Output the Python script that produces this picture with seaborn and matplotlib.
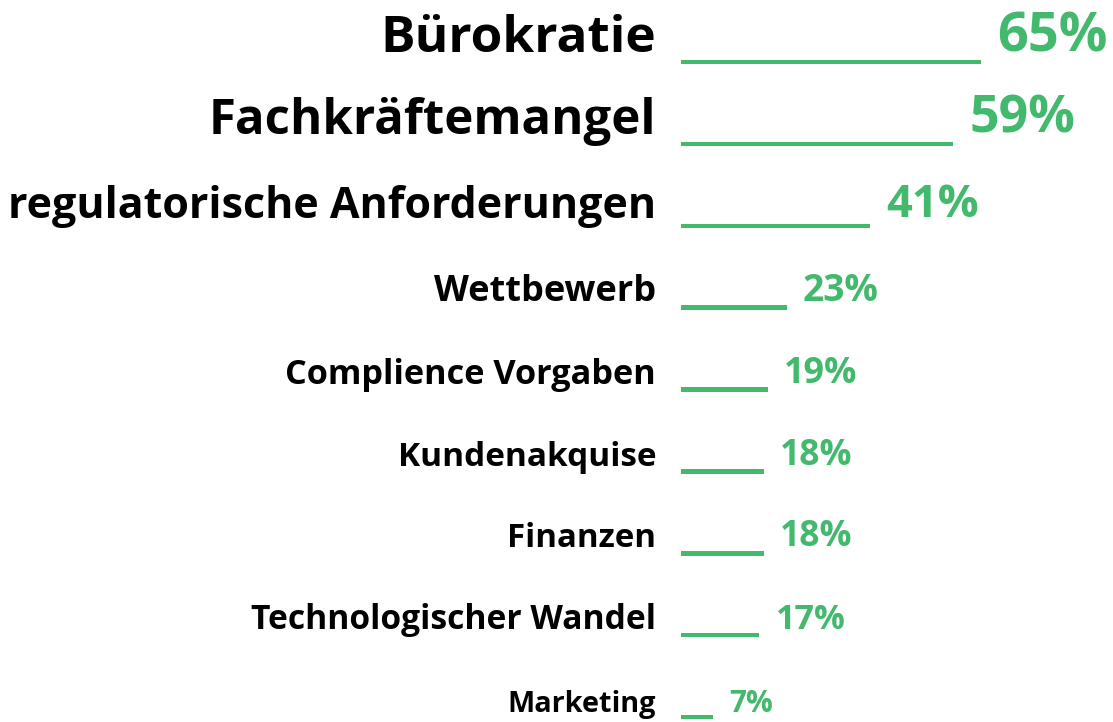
import numpy as np
import pandas as pd
import matplotlib as mpl
mpl.use("Agg")
import matplotlib.pyplot as plt
import seaborn as sns

## daten
kategorien = ["Bürokratie", "Fachkräftemangel", "regulatorische Anforderungen",
              "Wettbewerb", "Complience Vorgaben", "Kundenakquise", "Finanzen",
              "Technologischer Wandel", "Marketing"]
werte = [65, 59, 41, 23, 19, 18, 18, 17, 7]
prozent_labels = ["65%", "59%", "41%", "23%", "19%", "18%", "18%", "17%", "7%"]

df = pd.DataFrame({"Kategorie": kategorien, "Wert": werte})

sns.set_style("white")
plt.rcParams['font.family'] = ['Open Sans', 'DejaVu Sans']

gruen = "#43B96E"
# schriftgroessen pro zeile (label, prozent)
groesse_label = [37, 35.4, 31, 26, 24.7, 24, 23.8, 24.2, 20.8]
groesse_prozent = [39, 37.4, 32.7, 26.8, 25.8, 25.5, 25.5, 24.7, 21.5]

fig = plt.figure(figsize=(11.13, 7.22), dpi=100)
ax = fig.add_axes([0, 0, 1, 1])

sns.barplot(data=df, x="Wert", y="Kategorie", order=kategorien, orient="h",
            color=gruen, width=0.055, saturation=1, linewidth=0, ax=ax)

ax.set_xlim(-147.3, 93.6)
ax.set_ylim(8.06, -0.757)
ax.axis("off")

for i in range(len(kategorien)):
    ax.annotate(kategorien[i], xy=(0, i), xytext=(-17.5, -1.5), textcoords="offset points",
                ha="right", va="bottom", fontsize=groesse_label[i],
                fontweight="bold", color="black")
    ax.annotate(prozent_labels[i], xy=(werte[i], i), xytext=(11.5, -1.5),
                textcoords="offset points", ha="left", va="bottom",
                fontsize=groesse_prozent[i], fontweight="bold", color=gruen)

plt.savefig("out.png", dpi=100)
